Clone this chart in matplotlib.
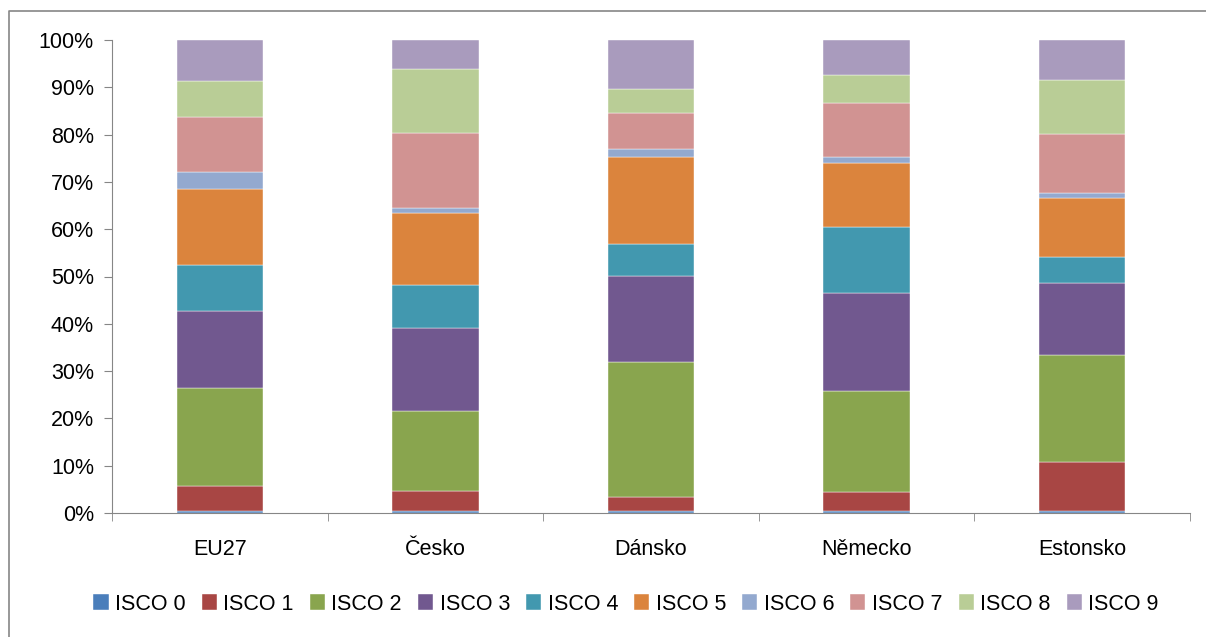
import numpy as np
import matplotlib

matplotlib.use("Agg")
import matplotlib.pyplot as plt
from matplotlib.lines import Line2D
from matplotlib.ticker import PercentFormatter

plt.rcParams.update({"font.family": ["Liberation Sans", "DejaVu Sans"], "font.size": 15.5})

COUNTRIES = ["EU27", "Česko", "Dánsko", "Německo", "Estonsko"]
GROUPS = ["ISCO 0", "ISCO 1", "ISCO 2", "ISCO 3", "ISCO 4",
          "ISCO 5", "ISCO 6", "ISCO 7", "ISCO 8", "ISCO 9"]

# share of each ISCO group (%), one list per country
EU27 = [0.5, 5.2, 20.7, 16.3, 9.7, 16.1, 3.6, 11.6, 7.7, 8.6]
CESKO = [0.4, 4.3, 16.9, 17.6, 9.0, 15.2, 1.0, 16.0, 13.5, 6.1]
DANSKO = [0.4, 2.9, 28.6, 18.2, 6.7, 18.5, 1.6, 7.6, 5.1, 10.4]
NEMECKO = [0.4, 4.1, 21.3, 20.8, 13.8, 13.5, 1.4, 11.4, 5.9, 7.4]
ESTONSKO = [0.4, 10.4, 22.5, 15.4, 5.4, 12.6, 1.0, 12.4, 11.4, 8.5]

COLORS = ["#4a7ebb", "#a84644", "#89a54e", "#71588f", "#4298af",
          "#db843d", "#93a9cf", "#d19392", "#b9cd96", "#a99bbd"]

data = np.array([EU27, CESKO, DANSKO, NEMECKO, ESTONSKO])
data = data / data.sum(axis=1, keepdims=True) * 100

fig = plt.figure(figsize=(12.06, 6.37), dpi=100)
ax = fig.add_axes([112 / 1206, 1 - 513 / 637, 1078 / 1206, 473 / 637])

x = np.arange(len(COUNTRIES))
bottom = np.zeros(len(COUNTRIES))
for i, name in enumerate(GROUPS):
    ax.bar(x, data[:, i], 0.4, bottom=bottom, color=COLORS[i], label=name,
           edgecolor="white", linewidth=0.3)
    bottom += data[:, i]

ax.set_xlim(-0.5, len(COUNTRIES) - 0.5)
ax.set_ylim(0, 100)
ax.set_yticks(np.arange(0, 101, 10))
ax.yaxis.set_major_formatter(PercentFormatter(decimals=0))
ax.set_xticks(x)
ax.set_xticklabels(COUNTRIES)
ax.set_xticks(np.arange(-0.5, len(COUNTRIES), 1), minor=True)
ax.tick_params(axis="x", which="major", length=0, pad=19)
ax.tick_params(axis="x", which="minor", length=6, color="#868686")
ax.tick_params(axis="y", length=6, color="#868686", pad=7)
for s in ("top", "right"):
    ax.spines[s].set_visible(False)
for s in ("left", "bottom"):
    ax.spines[s].set_color("#868686")

fig.legend(*ax.get_legend_handles_labels(), loc="center", bbox_to_anchor=(626 / 1206, 1 - 604 / 637),
           ncol=10, frameon=False, handlelength=0.7, handleheight=0.7,
           handletextpad=0.3, columnspacing=0.75, fontsize=15.5)

# chart frame (top and left edges)
fig.add_artist(Line2D([9 / 1206, 9 / 1206, 1], [0, 1 - 11 / 637, 1 - 11 / 637],
                      transform=fig.transFigure, color="#868686", lw=1.2))

fig.savefig("out.png", dpi=100)
